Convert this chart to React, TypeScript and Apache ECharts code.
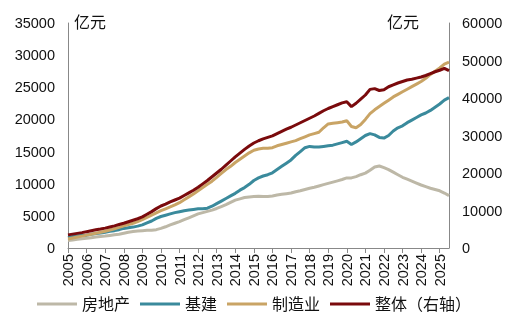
import React, { useEffect, useRef } from "react";
import * as echarts from "echarts";

const years = [2005, 2006, 2007, 2008, 2009, 2010, 2011, 2012, 2013, 2014, 2015, 2016, 2017, 2018, 2019, 2020, 2021, 2022, 2023, 2024, 2025];
const quartersLast = 3; // 2025 has Q1..Q3

const realEstate = [
  1150, 1250, 1350, 1450,
  1500, 1600, 1700, 1800,
  1850, 1950, 2050, 2150,
  2300, 2450, 2550, 2650,
  2700, 2750, 2750, 2850,
  3050, 3300, 3600, 3850,
  4100, 4400, 4700, 5000,
  5300, 5500, 5700, 5900,
  6150, 6450, 6750, 7100,
  7450, 7650, 7850, 7950,
  8000, 8050, 8000, 8000,
  8100, 8250, 8350, 8450,
  8550, 8750, 8900, 9100,
  9300, 9450, 9650, 9850,
  10050, 10250, 10450, 10650,
  10900, 10900, 11100, 11400,
  11650, 12100, 12600, 12750,
  12500, 12200, 11800, 11400,
  11000, 10700, 10400, 10100,
  9800, 9550, 9300, 9100,
  8900, 8550, 8150,
];

const infra = [
  1650, 1800, 1900, 1950,
  2000, 2150, 2250, 2350,
  2450, 2600, 2700, 2850,
  3050, 3150, 3250, 3400,
  3600, 3900, 4200, 4600,
  4900, 5100, 5300, 5500,
  5650, 5800, 5900, 6000,
  6100, 6100, 6200, 6500,
  6900, 7300, 7700, 8100,
  8500, 9000, 9400, 9900,
  10500, 10900, 11200, 11400,
  11700, 12200, 12700, 13200,
  13700, 14400, 15000, 15600,
  15800, 15700, 15700, 15800,
  15900, 16000, 16200, 16400,
  16600, 16100, 16500, 17000,
  17500, 17800, 17600, 17200,
  17100, 17500, 18200, 18700,
  19000, 19500, 19900, 20300,
  20700, 21000, 21400, 21900,
  22400, 23000, 23400,
];

const manufacturing = [
  1400, 1550, 1700, 1850,
  2000, 2150, 2300, 2450,
  2600, 2800, 3000, 3200,
  3450, 3650, 3850, 4100,
  4400, 4750, 5100, 5450,
  5800, 6100, 6400, 6700,
  7050, 7500, 7950, 8400,
  8900, 9400, 9900, 10400,
  11000, 11600, 12200, 12700,
  13300, 13800, 14300, 14800,
  15200, 15400, 15500, 15500,
  15600, 15900, 16100, 16300,
  16500, 16700, 17000, 17300,
  17600, 17800, 18000, 18700,
  19300, 19400, 19500, 19600,
  19800, 18900, 18700, 19200,
  20000, 20900, 21500, 22000,
  22500, 23000, 23500, 23900,
  24300, 24700, 25100, 25500,
  25900, 26400, 27000, 27500,
  28000, 28600, 28900,
];

const overall = [
  3500, 3700, 3900, 4100,
  4350, 4600, 4850, 5050,
  5300, 5600, 5900, 6250,
  6600, 7000, 7400, 7800,
  8300, 9000, 9700, 10500,
  11200, 11700, 12300, 12800,
  13300, 14000, 14700, 15400,
  16200, 17100, 18000, 19000,
  20000, 21000, 22100, 23200,
  24300, 25300, 26300, 27200,
  28000, 28600, 29100, 29500,
  29900, 30500, 31100, 31700,
  32200, 32800, 33400, 34000,
  34600, 35200, 35900, 36600,
  37200, 37700, 38200, 38700,
  39000, 37700, 38600, 39700,
  40800, 42300, 42500, 42000,
  42200, 43000, 43500, 44000,
  44400, 44800, 45000, 45300,
  45600, 46000, 46500, 47000,
  47400, 47900, 47300,
];

const seriesNames = ["房地产", "基建", "制造业", "整体（右轴）"];
const colors = ["#bdb8a7", "#3a8a9c", "#c9a465", "#7a0a0c"];
const leftTicks = { min: 0, max: 35000, interval: 5000 };
const rightTicks = { min: 0, max: 60000, interval: 10000 };
const unitLabel = "亿元";

const categories: string[] = [];
years.forEach((y) => {
  const nq = y === years[years.length - 1] ? quartersLast : 4;
  for (let q = 1; q <= nq; q++) categories.push(`${y}Q${q}`);
});

const FONT = "'Liberation Sans', Arial, 'Noto Sans CJK SC', sans-serif";

export default function App() {
  const ref = useRef<HTMLDivElement>(null);
  useEffect(() => {
    if (!ref.current) return;
    const chart = echarts.init(ref.current, undefined, { renderer: "svg" });
    const dataSets = [realEstate, infra, manufacturing, overall];
    chart.setOption({
      animation: false,
      color: colors,
      textStyle: { fontFamily: FONT },
      grid: { left: 68, right: 59, top: 23, bottom: 77 },
      legend: {
        bottom: 8,
        left: "center",
        icon: "rect",
        itemWidth: 40,
        itemHeight: 3,
        itemGap: 10,
        textStyle: { fontSize: 16, color: "#111", fontFamily: FONT },
        data: seriesNames,
      },
      graphic: [
        { type: "text", left: 74, top: 14, style: { text: unitLabel, fill: "#111", font: `16px ${FONT}` } },
        { type: "text", left: 387, top: 14, style: { text: unitLabel, fill: "#111", font: `16px ${FONT}` } },
      ],
      xAxis: {
        type: "category",
        data: categories,
        boundaryGap: false,
        axisLine: { lineStyle: { color: "#888", width: 1 } },
        axisTick: {
          show: true,
          length: 5,
          lineStyle: { color: "#888" },
          interval: (i: number) => i % 4 === 0,
        },
        axisLabel: {
          rotate: 90,
          margin: 6,
          fontSize: 14.5,
          color: "#111",
          interval: (i: number) => i % 4 === 0,
          formatter: (v: string) => v.slice(0, 4),
        },
        splitLine: { show: false },
      },
      yAxis: [
        {
          type: "value",
          ...leftTicks,
          axisLine: { show: true, lineStyle: { color: "#888" } },
          axisTick: { show: false },
          splitLine: { show: false },
          axisLabel: { fontSize: 14.5, color: "#111", margin: 13, formatter: (v: number) => String(v) },
        },
        {
          type: "value",
          ...rightTicks,
          position: "right",
          axisLine: { show: true, lineStyle: { color: "#888" } },
          axisTick: { show: false },
          splitLine: { show: false },
          axisLabel: { fontSize: 14.5, color: "#111", margin: 13, formatter: (v: number) => String(v) },
        },
      ],
      series: seriesNames.map((name, i) => ({
        name,
        type: "line",
        yAxisIndex: i === 3 ? 1 : 0,
        data: dataSets[i],
        showSymbol: false,
        symbol: "none",
        lineStyle: { width: 3, color: colors[i] },
        itemStyle: { color: colors[i] },
        z: i === 3 ? 5 : 2 + i,
      })),
    });
    return () => chart.dispose();
  }, []);
  return <div ref={ref} style={{ position: "fixed", left: 0, top: 0, width: 508, height: 325 }} />;
}
